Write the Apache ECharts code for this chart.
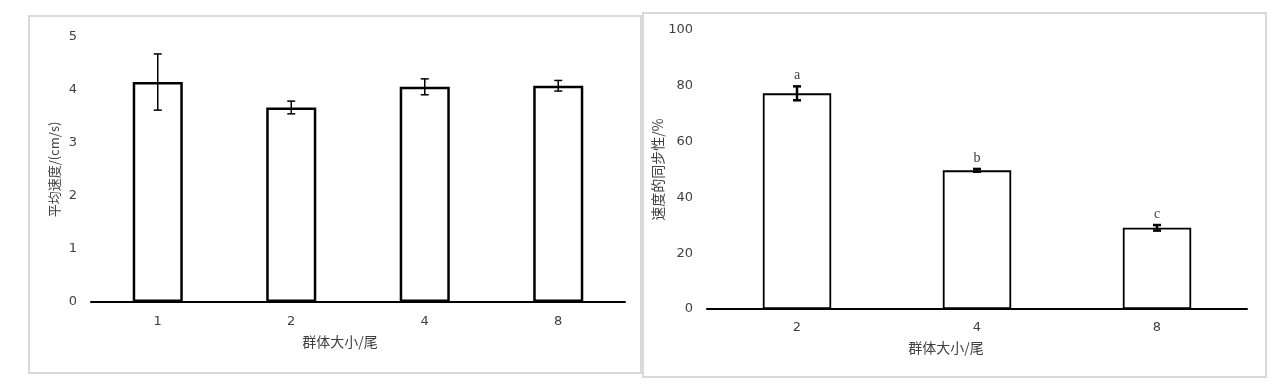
<!DOCTYPE html>
<html><head><meta charset="utf-8">
<script src="https://cdn.jsdelivr.net/npm/echarts@6/dist/echarts.min.js"></script>
<style>html,body{margin:0;padding:0;background:#fff}#c{width:1285px;height:387px}</style>
</head><body><div id="c"></div>
<script>
const leftCats = ['1','2','4','8'];
const leftMeans = [4.15, 3.67, 4.06, 4.08];
const leftErr = [0.53, 0.12, 0.15, 0.10];
const rightCats = ['2','4','8'];
const rightMeans = [77.3, 49.7, 29.1];
const rightErr = [2.5, 0.5, 1.0];
const rightLetters = ['a','b','c'];

const SANS = '"DejaVu Sans", Verdana, sans-serif';
const CJK = '"Noto Sans CJK SC", sans-serif';
const txt = '#404040';

function errItem(capW, lw, means, errs, letters) {
  return function (params, api) {
    const i = api.value(0);
    const m = means[i], e = errs[i];
    const top = api.coord([i, m + e]);
    const bot = api.coord([i, m - e]);
    const x = top[0];
    const children = [
      {type:'line', shape:{x1:x, y1:top[1], x2:x, y2:bot[1]}, style:{stroke:'#000', lineWidth:lw}},
      {type:'line', shape:{x1:x-capW/2, y1:top[1], x2:x+capW/2, y2:top[1]}, style:{stroke:'#000', lineWidth:lw}},
      {type:'line', shape:{x1:x-capW/2, y1:bot[1], x2:x+capW/2, y2:bot[1]}, style:{stroke:'#000', lineWidth:lw}}
    ];
    if (letters) {
      children.push({type:'text', x:x, y:top[1]-4, style:{text:letters[i], fill:txt, font:'14px "Liberation Serif", "Times New Roman", serif', textAlign:'center', textVerticalAlign:'bottom'}});
    }
    return {type:'group', children};
  };
}

const chart = echarts.init(document.getElementById('c'), null, {renderer:'canvas'});
const axisBase = {
  axisLine:{lineStyle:{color:'#000', width:2}},
  axisTick:{inside:true, length:4, lineStyle:{color:'#000', width:2}},
  splitLine:{show:false}
};
chart.setOption({
  animation:false,
  backgroundColor:'#fff',
  graphic:[
    {type:'rect', shape:{x:29, y:16, width:612, height:357}, style:{fill:'none', stroke:'#d9d9d9', lineWidth:2}, z:-1},
    {type:'rect', shape:{x:643, y:13, width:623, height:364}, style:{fill:'none', stroke:'#d9d9d9', lineWidth:2}, z:-1}
  ],
  grid:[
    {left:91, top:37, width:534, height:265},
    {left:707, top:30, width:540, height:279}
  ],
  xAxis:[
    Object.assign({}, axisBase, {type:'category', gridIndex:0, data:leftCats,
      axisTick:{inside:true, alignWithLabel:true, length:4, lineStyle:{color:'#000', width:2}},
      axisLabel:{color:txt, fontFamily:SANS, fontSize:13, margin:13},
      name:'群体大小/尾', nameLocation:'middle', nameGap:33,
      nameTextStyle:{color:txt, fontFamily:CJK, fontSize:14, padding:[0,36,0,0]}}),
    Object.assign({}, axisBase, {type:'category', gridIndex:1, data:rightCats,
      axisTick:{inside:true, alignWithLabel:true, length:4, lineStyle:{color:'#000', width:2}},
      axisLabel:{color:txt, fontFamily:SANS, fontSize:13, margin:12},
      name:'群体大小/尾', nameLocation:'middle', nameGap:32,
      nameTextStyle:{color:txt, fontFamily:CJK, fontSize:14, padding:[0,62,0,0]}})
  ],
  yAxis:[
    Object.assign({}, axisBase, {type:'value', gridIndex:0, min:0, max:5, interval:1,
      axisLabel:{color:txt, fontFamily:SANS, fontSize:13, margin:14},
      name:'平均速度/(cm/s)', nameLocation:'middle', nameGap:30,
      nameTextStyle:{color:txt, fontFamily:CJK, fontSize:13}}),
    Object.assign({}, axisBase, {type:'value', gridIndex:1, min:0, max:100, interval:20,
      axisLabel:{color:txt, fontFamily:SANS, fontSize:13, margin:14},
      name:'速度的同步性/%', nameLocation:'middle', nameGap:40,
      nameTextStyle:{color:txt, fontFamily:CJK, fontSize:14}})
  ],
  series:[
    {type:'bar', xAxisIndex:0, yAxisIndex:0, data:leftMeans, barWidth:'37.5%',
      itemStyle:{color:'#fff', borderColor:'#000', borderWidth:2.5}},
    {type:'custom', xAxisIndex:0, yAxisIndex:0, data:leftMeans.map((v,i)=>[i,v]),
      renderItem:errItem(8, 1.5, leftMeans, leftErr, null), z:5},
    {type:'bar', xAxisIndex:1, yAxisIndex:1, data:rightMeans, barWidth:'38%',
      itemStyle:{color:'#fff', borderColor:'#000', borderWidth:1.8}},
    {type:'custom', xAxisIndex:1, yAxisIndex:1, data:rightMeans.map((v,i)=>[i,v]),
      renderItem:errItem(8, 2.5, rightMeans, rightErr, rightLetters), z:5}
  ]
});
</script></body></html>
